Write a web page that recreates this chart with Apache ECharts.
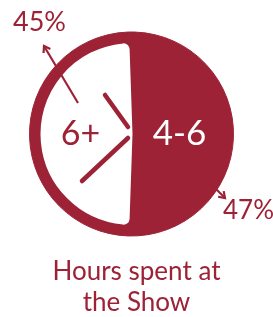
<!DOCTYPE html>
<html><head><meta charset="utf-8">
<script src="https://cdn.jsdelivr.net/npm/echarts@6/dist/echarts.min.js"></script>
<style>html,body{margin:0;padding:0;background:#fff}#c{width:273px;height:317px}</style>
</head><body><div id="c"></div>
<script>
// Data
var categories = ['6+', '4-6'];
var values = [45, 47];
var titleLines = ['Hours spent at', 'the Show'];

var RED = '#9d2236';
var FONT = 'Lato';
var cx = 131.5, cy = 134, R = 102, r = 90;

var total = values[0] + values[1];
var start = 180 - values[0] / total * 180; // centre the first slice on the left

function arrow(x1, y1, x2, y2, w, head) {
  var dx = x2 - x1, dy = y2 - y1, L = Math.sqrt(dx * dx + dy * dy);
  var ux = dx / L, uy = dy / L, a = 0.6;
  function rot(t) { return [ -(ux * Math.cos(t) - uy * Math.sin(t)) * head, -(ux * Math.sin(t) + uy * Math.cos(t)) * head ]; }
  var p1 = rot(a), p2 = rot(-a);
  return [
    { type: 'line', shape: { x1: x1, y1: y1, x2: x2, y2: y2 }, style: { stroke: RED, lineWidth: w }, z: 10 },
    { type: 'polyline', shape: { points: [[x2 + p1[0], y2 + p1[1]], [x2, y2], [x2 + p2[0], y2 + p2[1]]] },
      style: { stroke: RED, lineWidth: w, fill: null, lineJoin: 'miter' }, z: 10 }
  ];
}

var graphics = []
  .concat(arrow(78, 103, 44, 46, 2.2, 7))
  .concat(arrow(207, 180, 225, 198, 2.2, 7));
graphics.push(
  { type: 'line', shape: { x1: 105, y1: 95, x2: 128, y2: 127 }, style: { stroke: RED, lineWidth: 4.5, lineCap: 'round' }, z: 10 },
  { type: 'line', shape: { x1: 128, y1: 138, x2: 82, y2: 181 }, style: { stroke: RED, lineWidth: 4.5, lineCap: 'round' }, z: 10 },
  { type: 'text', left: 13, top: 9, style: { text: values[0] + '%', fill: RED, font: '27px ' + FONT }, z: 10 },
  { type: 'text', left: 223, top: 198, style: { text: values[1] + '%', fill: RED, font: '26px ' + FONT }, z: 10 }
);

var chart = echarts.init(document.getElementById('c'), null, { renderer: 'canvas' });
chart.setOption({
  animation: false,
  title: {
    text: titleLines.join('\n'),
    left: 'center', top: 256, padding: 0,
    textStyle: { color: RED, fontFamily: FONT, fontWeight: 'normal', fontSize: 26, lineHeight: 31 }
  },
  series: [
    {
      type: 'pie', silent: true, center: [cx, cy], radius: [0, R],
      clockwise: false, startAngle: start,
      label: { show: false }, labelLine: { show: false },
      itemStyle: { color: RED, borderColor: RED, borderWidth: 1 },
      data: categories.map(function (c, i) { return { name: c, value: values[i] }; })
    },
    {
      type: 'pie', silent: true, center: [cx, cy], radius: [0, r],
      clockwise: false, startAngle: start,
      labelLine: { show: false },
      data: [
        { name: categories[0], value: values[0],
          itemStyle: { color: '#fff', borderColor: '#fff', borderWidth: 2, borderRadius: [0, 5] },
          label: { show: true, position: 'inside', formatter: '{b}', color: RED, fontFamily: FONT, fontSize: 34, padding: [0, 6, 4, 0] } },
        { name: categories[1], value: values[1],
          itemStyle: { color: 'rgba(0,0,0,0)' },
          label: { show: true, position: 'inside', formatter: '{b}', color: '#fff', fontFamily: FONT, fontSize: 35, padding: [0, 0, 4, 0] } }
      ]
    }
  ],
  graphic: graphics
});
</script></body></html>
